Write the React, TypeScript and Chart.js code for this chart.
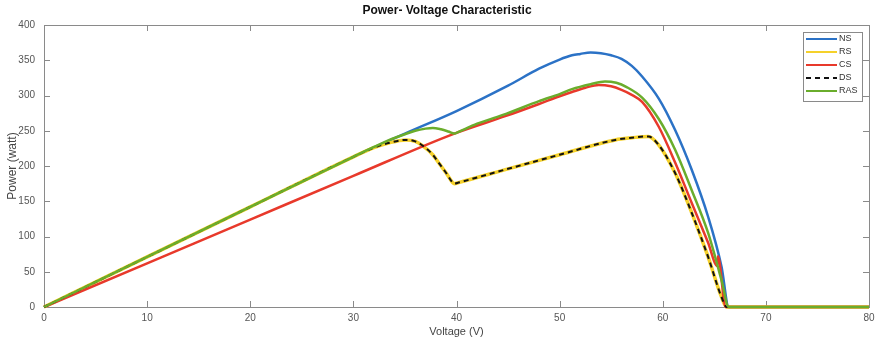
import React, { useEffect, useRef } from "react";
import { Chart, registerables } from "chart.js";

Chart.register(...registerables);

// ---- Data (Voltage in V, Power in W) ----
const NS_V = [0, 10, 20, 30, 35, 40, 45, 48, 50, 51.2, 52, 53, 54, 55, 56, 57, 58, 59.6, 61.2, 62.8, 64.4, 65.7, 66.4, 80];
const NS_P = [0, 71, 142, 213, 246, 278, 314, 338, 351, 357, 359, 361, 360, 357, 352, 342, 327, 296, 251, 195, 128, 57, 0, 0];

const RS_V = [0, 10, 20, 30, 32, 33.5, 35.1, 36, 36.7, 37.7, 38.3, 39, 39.6, 39.8, 40.2, 45, 50, 55.4, 57, 58.6, 59.6, 61.2, 62.8, 64.4, 65.7, 66.2, 80];
const RS_P = [0, 71, 142, 213, 226, 233, 237, 235, 229, 216, 204, 190, 177, 175, 176.5, 196, 216, 237, 240, 242, 230, 190, 134, 71, 14, 0, 0];

const CS_V = [0, 10, 20, 30, 39.8, 44.8, 48, 50, 51.2, 52.5, 53.8, 55, 56, 57, 58, 59.6, 61.2, 62.8, 64.4, 65.3, 65.35, 66.1, 80];
const CS_P = [0, 62, 124, 186, 246, 271, 288, 299, 305, 311, 315, 313, 308, 301, 291, 256, 205, 148, 91, 58, 72, 0, 0];

const DS_V = RS_V.slice();
const DS_P = RS_P.slice();

const RAS_V = [0, 10, 20, 30, 32, 33.5, 35, 36, 37, 37.7, 38.5, 39.2, 39.8, 40.2, 42, 44.8, 48, 50, 51.2, 53, 54.4, 55.5, 56.5, 58, 59.6, 61.2, 62.8, 64.4, 65.7, 66.4, 80];
const RAS_P = [0, 71, 142, 213, 227, 237, 245, 250, 253, 254, 252, 249, 246, 248.5, 260, 274, 292, 302, 309, 316, 320, 318, 312, 297, 267, 223, 166, 105, 38, 0, 0];

const SERIES_LABELS = ["NS", "RS", "CS", "DS", "RAS"];
const TITLE = "Power- Voltage Characteristic";
const X_TITLE = "Voltage (V)";
const Y_TITLE = "Power (watt)";

const FONT = "'Liberation Sans', Arial, sans-serif";

function pts(v: number[], p: number[]) {
  return v.map((x, i) => ({ x, y: p[i] }));
}

const framePlugin = {
  id: "matlabFrame",
  beforeDatasetsDraw(chart: any) {
    const { ctx, chartArea: a, scales } = chart;
    ctx.save();
    ctx.strokeStyle = "#8a8a8a";
    ctx.lineWidth = 1;
    ctx.strokeRect(Math.round(a.left) + 0.5, Math.round(a.top) + 0.5, Math.round(a.right - a.left), Math.round(a.bottom - a.top));
    const tl = 6;
    ctx.beginPath();
    scales.x.ticks.forEach((t: any) => {
      const px = Math.round(scales.x.getPixelForValue(t.value)) + 0.5;
      ctx.moveTo(px, a.bottom);
      ctx.lineTo(px, a.bottom - tl);
      ctx.moveTo(px, a.top);
      ctx.lineTo(px, a.top + tl);
    });
    scales.y.ticks.forEach((t: any) => {
      const py = Math.round(scales.y.getPixelForValue(t.value)) + 0.5;
      ctx.moveTo(a.left, py);
      ctx.lineTo(a.left + tl, py);
      ctx.moveTo(a.right, py);
      ctx.lineTo(a.right - tl, py);
    });
    ctx.stroke();
    // title
    ctx.fillStyle = "#111";
    ctx.font = "bold 12px " + FONT;
    ctx.textAlign = "center";
    ctx.textBaseline = "middle";
    ctx.fillText(TITLE, 447, 11);
    ctx.restore();
  },
  afterDraw(chart: any) {
    const { ctx } = chart;
    const ds = chart.data.datasets;
    ctx.save();
    const bx = 803, by = 32, bw = 59, bh = 69;
    ctx.fillStyle = "#fff";
    ctx.fillRect(bx, by, bw, bh);
    ctx.strokeStyle = "#8a8a8a";
    ctx.lineWidth = 1;
    ctx.strokeRect(bx + 0.5, by + 0.5, bw, bh);
    ctx.font = "9px " + FONT;
    ctx.textAlign = "left";
    ctx.textBaseline = "middle";
    ds.forEach((d: any, i: number) => {
      const y = by + 7 + i * 13;
      ctx.beginPath();
      ctx.strokeStyle = d.borderColor;
      ctx.lineWidth = 2;
      ctx.setLineDash(d.borderDash || []);
      ctx.moveTo(bx + 3, y);
      ctx.lineTo(bx + 34, y);
      ctx.stroke();
      ctx.setLineDash([]);
      ctx.fillStyle = "#333";
      ctx.fillText(d.label, bx + 36, y);
    });
    ctx.restore();
  },
};

export default function App() {
  const ref = useRef<HTMLCanvasElement | null>(null);

  useEffect(() => {
    document.body.style.margin = "0";
    const canvas = ref.current;
    if (!canvas) return;
    const common = { pointRadius: 0, fill: false, cubicInterpolationMode: "monotone" as const, clip: 4 };
    const chart = new Chart(canvas, {
      type: "line",
      data: {
        datasets: [
          { ...common, label: SERIES_LABELS[0], data: pts(NS_V, NS_P), borderColor: "#2b72c6", borderWidth: 2.5, order: 5 },
          { ...common, label: SERIES_LABELS[1], data: pts(RS_V, RS_P), borderColor: "#f5d12a", borderWidth: 3.5, order: 4 },
          { ...common, label: SERIES_LABELS[2], data: pts(CS_V, CS_P), borderColor: "#e8392b", borderWidth: 2.5, order: 3 },
          { ...common, label: SERIES_LABELS[3], data: pts(DS_V, DS_P), borderColor: "#111111", borderWidth: 2, borderDash: [5, 4], order: 2 },
          { ...common, label: SERIES_LABELS[4], data: pts(RAS_V, RAS_P), borderColor: "#6aad2c", borderWidth: 2.5, order: 1 },
        ] as any,
      },
      options: {
        responsive: false,
        animation: false,
        layout: { padding: { top: 25, right: 13, left: 0, bottom: 0 } },
        plugins: { legend: { display: false }, tooltip: { enabled: false }, title: { display: false } },
        scales: {
          x: {
            type: "linear",
            min: 0,
            max: 80,
            grid: { display: false, drawTicks: false },
            border: { display: false },
            ticks: { stepSize: 10, color: "#555", font: { family: FONT, size: 10 }, padding: 5, maxRotation: 0 },
            title: { display: true, text: X_TITLE, color: "#444", font: { family: FONT, size: 11 }, padding: { top: 0, bottom: 6 } },
            afterFit: (s: any) => { s.height = 38; },
          },
          y: {
            type: "linear",
            min: 0,
            max: 400,
            grid: { display: false, drawTicks: false },
            border: { display: false },
            ticks: { stepSize: 50, color: "#555", font: { family: FONT, size: 10 }, padding: 9 },
            title: { display: true, text: Y_TITLE, color: "#444", font: { family: FONT, size: 12 }, padding: { top: 5, bottom: 0 } },
            afterFit: (s: any) => { s.width = 44; },
          },
        },
      } as any,
      plugins: [framePlugin],
    });
    return () => chart.destroy();
  }, []);

  return (
    <div style={{ width: 882, height: 345, background: "#fff" }}>
      <canvas ref={ref} width={882} height={345} style={{ display: "block" }} />
    </div>
  );
}
